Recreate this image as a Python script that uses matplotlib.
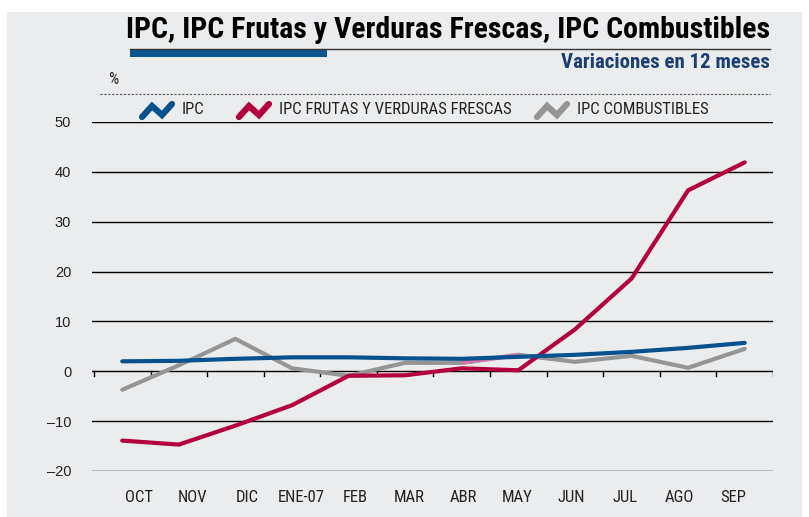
import matplotlib
matplotlib.use("Agg")
import matplotlib.pyplot as plt
from matplotlib.lines import Line2D
from matplotlib.patches import Rectangle
from matplotlib import font_manager

months = ["OCT", "NOV", "DIC", "ENE-07", "FEB", "MAR", "ABR", "MAY", "JUN", "JUL", "AGO", "SEP"]
ipc = [2.0, 2.1, 2.5, 2.8, 2.8, 2.6, 2.5, 2.9, 3.3, 3.9, 4.7, 5.7]
frutas = [-13.9, -14.7, -10.9, -6.8, -0.9, -0.8, 0.6, 0.2, 8.4, 18.6, 36.3, 41.9]
combust = [-3.7, 1.2, 6.5, 0.6, -0.9, 1.7, 1.7, 3.3, 1.9, 3.1, 0.7, 4.5]
yticks = [50, 40, 30, 20, 10, 0, -10, -20]
ytick_labels = ["50", "40", "30", "20", "10", "0", "\u201310", "\u201320"]
legend_labels = ["IPC", "IPC FRUTAS Y VERDURAS FRESCAS", "IPC COMBUSTIBLES"]
title = "IPC, IPC Frutas y Verduras Frescas, IPC Combustibles"
subtitle = "Variaciones en 12 meses"

names = {f.name for f in font_manager.fontManager.ttflist}
cond = ["Liberation Sans Narrow", "Roboto Condensed", "Open Sans Condensed", "Liberation Sans", "DejaVu Sans"]
cond = [c for c in cond if c in names] or ["DejaVu Sans"]
plt.rcParams["font.family"] = cond

BLUE = "#07528e"
RED = "#b4003a"
GRAY = "#959595"
BG = "#ebecee"

W, H = 809, 517
fig = plt.figure(figsize=(W / 100, H / 100), dpi=100)
fig.patch.set_facecolor("white")

def fx(px):
    return px / W

def fy(py):
    return 1 - py / H

fig.add_artist(Rectangle((fx(7), 0), fx(802) - fx(7), fy(12), transform=fig.transFigure,
                         facecolor=BG, edgecolor="none", zorder=-10))

ax = fig.add_axes([fx(92), fy(471), fx(773) - fx(92), fy(122) - fy(471)])
ax.set_facecolor("none")
for s in ax.spines.values():
    s.set_visible(False)

x = list(range(len(months)))
ax.set_xlim(-0.535, 11.5)
ax.set_ylim(-20, 50)

for v in yticks:
    ax.axhline(v, color="black", lw=1.0, zorder=1)

# zero-line boundary ticks
for b in [i - 0.5 for i in range(len(months) + 1)]:
    ax.plot([b, b], [0, -0.9], color="black", lw=1.0, zorder=1)

kw = dict(lw=3.0, solid_capstyle="round", solid_joinstyle="miter", zorder=3)
ax.plot(x, combust, color=GRAY, **kw)
ax.plot(x[6:8], combust[6:8], color="#d873a8", lw=3.0, solid_capstyle="butt", zorder=3)
ax.plot(x, frutas, color=RED, **kw)
ax.plot(x, ipc, color=BLUE, **kw)

ax.set_yticks(yticks)
ax.set_yticklabels(ytick_labels, family=["Liberation Sans", "DejaVu Sans"], fontsize=10.5, color="#222222")
ax.tick_params(axis="y", length=0, pad=15)

label_pos = [0.29 + 0.955 * i for i in x]
ax.set_xticks(label_pos)
ax.set_xticklabels(months, fontsize=12, color="#222222")
ax.tick_params(axis="x", length=0, pad=14)

# Title block
fig.text(fx(770), fy(30), title, ha="right", va="center", fontsize=21.5, fontweight="bold", color="black")
fig.add_artist(Line2D([fx(130), fx(770)], [fy(48.5), fy(48.5)], color="#333333", lw=1.0, transform=fig.transFigure))
fig.add_artist(Rectangle((fx(130), fy(57)), fx(327) - fx(130), fy(49) - fy(57), transform=fig.transFigure,
                         facecolor="#0b5591", edgecolor="none"))
fig.text(fx(770), fy(63), subtitle, ha="right", va="center", fontsize=15, fontweight="bold", color="#1b3f72")
fig.text(fx(113), fy(80), "%", ha="center", va="center", fontsize=11.5, color="#222222")
fig.add_artist(Line2D([fx(100), fx(770)], [fy(94), fy(94)], color="#555555", lw=0.8, ls=(0, (2, 1.5)),
                      transform=fig.transFigure))

# Legend
leg_items = [(140, BLUE, legend_labels[0]), (237, RED, legend_labels[1]), (535, GRAY, legend_labels[2])]
for x0, col, lab in leg_items:
    xs = [x0 + 2, x0 + 12, x0 + 22, x0 + 32]
    ys = [117, 106, 115, 104]
    fig.add_artist(Line2D([fx(v) for v in xs], [fy(v) for v in ys], color=col, lw=4.5,
                          solid_capstyle="round", solid_joinstyle="miter", transform=fig.transFigure))
    fig.text(fx(x0 + 42), fy(110), lab, ha="left", va="center", fontsize=12, color="#222222")

fig.savefig("out.png", dpi=100, facecolor=fig.get_facecolor())
